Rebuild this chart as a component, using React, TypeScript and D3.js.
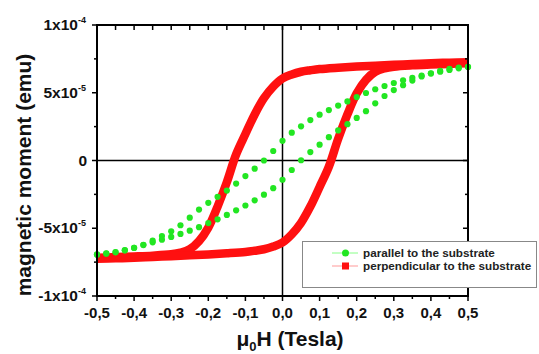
import React from 'react';
import * as d3 from 'd3';

// parallel to the substrate (green dots), moment in units of 1e-5 emu
const greenFieldDown = [0.5, 0.475, 0.45, 0.425, 0.4, 0.375, 0.35, 0.325, 0.3, 0.275, 0.25, 0.225, 0.2, 0.175, 0.15, 0.125, 0.1, 0.075, 0.05, 0.025, 0, -0.025, -0.05, -0.075, -0.1, -0.125, -0.15, -0.175, -0.2, -0.225, -0.25, -0.275, -0.3, -0.325, -0.35, -0.375, -0.4, -0.425, -0.45, -0.475, -0.5];
const greenMomentDown = [6.90, 6.80, 6.68, 6.55, 6.42, 6.27, 6.10, 5.92, 5.72, 5.50, 5.26, 4.98, 4.68, 4.36, 4.05, 3.72, 3.38, 2.98, 2.52, 2.05, 1.45, 0.70, 0.00, -0.60, -1.15, -1.70, -2.22, -2.68, -3.12, -3.62, -4.22, -4.78, -5.22, -5.58, -5.92, -6.22, -6.45, -6.63, -6.78, -6.88, -6.95];
const greenFieldUp = [-0.5, -0.475, -0.45, -0.425, -0.4, -0.375, -0.35, -0.325, -0.3, -0.275, -0.25, -0.225, -0.2, -0.175, -0.15, -0.125, -0.1, -0.075, -0.05, -0.025, 0, 0.025, 0.05, 0.075, 0.1, 0.125, 0.15, 0.175, 0.2, 0.225, 0.25, 0.275, 0.3, 0.325, 0.35, 0.375, 0.4, 0.425, 0.45, 0.475, 0.5];
const greenMomentUp = [-6.92, -6.85, -6.76, -6.62, -6.44, -6.24, -6.04, -5.84, -5.64, -5.42, -5.18, -4.92, -4.62, -4.34, -4.02, -3.68, -3.32, -2.94, -2.52, -2.04, -1.42, -0.70, 0.02, 0.62, 1.17, 1.72, 2.22, 2.68, 3.14, 3.64, 4.22, 4.76, 5.20, 5.56, 5.90, 6.20, 6.43, 6.61, 6.76, 6.86, 6.92];

// perpendicular to the substrate (red squares)
const redFieldDown = [0.5, 0.45, 0.4, 0.35, 0.3, 0.25, 0.2, 0.15, 0.1, 0.075, 0.05, 0.025, 0, -0.025, -0.05, -0.075, -0.1, -0.125, -0.15, -0.175, -0.2, -0.225, -0.25, -0.275, -0.3, -0.35, -0.4, -0.45, -0.5];
const redMomentDown = [7.25, 7.22, 7.18, 7.12, 7.06, 7.00, 6.93, 6.85, 6.75, 6.66, 6.55, 6.35, 6.05, 5.45, 4.60, 3.40, 1.95, 0.45, -1.60, -3.40, -4.95, -5.95, -6.55, -6.80, -6.92, -7.02, -7.08, -7.13, -7.18];
const redFieldUp = [-0.5, -0.45, -0.4, -0.35, -0.3, -0.25, -0.2, -0.15, -0.1, -0.075, -0.05, -0.025, 0, 0.025, 0.05, 0.075, 0.1, 0.125, 0.15, 0.175, 0.2, 0.225, 0.25, 0.275, 0.3, 0.35, 0.4, 0.45, 0.5];
const redMomentUp = [-7.25, -7.22, -7.18, -7.12, -7.06, -7.00, -6.93, -6.85, -6.75, -6.66, -6.55, -6.35, -6.05, -5.45, -4.60, -3.40, -1.95, -0.45, 1.60, 3.40, 4.95, 5.95, 6.55, 6.80, 6.92, 7.02, 7.08, 7.13, 7.18];

const xTickValues = [-0.5, -0.4, -0.3, -0.2, -0.1, 0, 0.1, 0.2, 0.3, 0.4, 0.5];
const xTickLabels = ['-0,5', '-0,4', '-0,3', '-0,2', '-0,1', '0,0', '0,1', '0,2', '0,3', '0,4', '0,5'];
const yTickValues = [-1e-4, -5e-5, 0, 5e-5, 1e-4];
const yTickBases = ['-1x10', '-5x10', '0', '5x10', '1x10'];
const yTickExps = ['-4', '-5', '', '-5', '-4'];

const GREEN = '#22e622';
const RED = '#ff1010';
const FONT = '"Liberation Sans", Arial, sans-serif';

const W = 539;
const H = 354;
const plot = { left: 97, right: 468, top: 25, bottom: 296 };

const App: React.FC = () => {
  const x = d3.scaleLinear().domain([-0.5, 0.5]).range([plot.left, plot.right]);
  const y = d3.scaleLinear().domain([-1e-4, 1e-4]).range([plot.bottom, plot.top]);

  const toPts = (hs: number[], ms: number[]) => hs.map((h, i) => [h, ms[i] * 1e-5] as [number, number]);
  const greenPts = [...toPts(greenFieldDown, greenMomentDown), ...toPts(greenFieldUp, greenMomentUp)];

  const line = d3.line<[number, number]>()
    .x(d => x(d[0]))
    .y(d => y(d[1]))
    .curve(d3.curveCatmullRom);

  const minorX = x.ticks(20);
  const minorY = d3.range(-1e-4, 1e-4 + 1e-9, 2.5e-5);

  return (
    <div style={{ position: 'fixed', left: 0, top: 0 }}>
      <svg width={W} height={H} style={{ display: 'block', background: '#fff' }} fontFamily={FONT}>
        {/* zero lines */}
        <line x1={plot.left} x2={plot.right} y1={y(0)} y2={y(0)} stroke="#000" strokeWidth={1.5} />
        <line x1={x(0)} x2={x(0)} y1={plot.top} y2={plot.bottom} stroke="#000" strokeWidth={1.5} />

        {/* red loop */}
        <path d={line(toPts(redFieldDown, redMomentDown)) || ''} fill="none" stroke={RED} strokeWidth={8.5} strokeLinejoin="round" />
        <path d={line(toPts(redFieldUp, redMomentUp)) || ''} fill="none" stroke={RED} strokeWidth={8.5} strokeLinejoin="round" />

        {/* green dots */}
        {greenPts.map((d, i) => (
          <circle key={i} cx={x(d[0])} cy={y(d[1])} r={3.1} fill={GREEN} />
        ))}

        {/* frame */}
        <rect x={plot.left} y={plot.top} width={plot.right - plot.left} height={plot.bottom - plot.top} fill="none" stroke="#000" strokeWidth={2} />

        {/* x ticks: bottom outward, top inward */}
        {minorX.map((t, i) => {
          const major = xTickValues.some(v => Math.abs(v - t) < 1e-9);
          const len = major ? 5 : 3;
          return (
            <g key={'xt' + i}>
              <line x1={x(t)} x2={x(t)} y1={plot.bottom} y2={plot.bottom + len} stroke="#000" strokeWidth={1.5} />
              <line x1={x(t)} x2={x(t)} y1={plot.top} y2={plot.top + 5} stroke="#000" strokeWidth={1.5} />
            </g>
          );
        })}
        {xTickValues.map((t, i) => (
          <text key={'xl' + i} x={x(t)} y={plot.bottom + 22} textAnchor="middle" fontSize={15} fontWeight="bold" fill="#111">
            {xTickLabels[i]}
          </text>
        ))}

        {/* y ticks: left outward, right inward */}
        {minorY.map((t, i) => {
          const major = yTickValues.some(v => Math.abs(v - t) < 1e-12);
          const len = major ? 5 : 3;
          return (
            <g key={'yt' + i}>
              <line x1={plot.left - len} x2={plot.left} y1={y(t)} y2={y(t)} stroke="#000" strokeWidth={1.5} />
              <line x1={plot.right - len} x2={plot.right} y1={y(t)} y2={y(t)} stroke="#000" strokeWidth={1.5} />
            </g>
          );
        })}
        {yTickValues.map((t, i) => (
          <text key={'yl' + i} x={yTickExps[i] ? plot.left - 11 : plot.left - 10} y={y(t) + 5} textAnchor="end" fontSize={15.5} fontWeight="bold" fill="#111">
            {yTickBases[i]}
            {yTickExps[i] && (
              <tspan fontSize={9} dy={-7}>{yTickExps[i]}</tspan>
            )}
          </text>
        ))}

        {/* axis titles */}
        <text transform={`translate(31,175) rotate(-90)`} textAnchor="middle" fontSize={21} fontWeight="bold" fill="#111">
          magnetic moment (emu)
        </text>
        <text x={290} y={346} textAnchor="middle" fontSize={21} fontWeight="bold" fill="#111">
          μ<tspan fontSize={13} dy={5}>0</tspan><tspan dy={-5}>H (Tesla)</tspan>
        </text>

        {/* legend */}
        <g>
          <rect x={302.5} y={241.5} width={234} height={46} fill="#fff" stroke="#888" strokeWidth={1} />
          <line x1={332} x2={358} y1={253} y2={253} stroke="#8f8" strokeWidth={1} />
          <circle cx={345.5} cy={253} r={3.5} fill={GREEN} />
          <text x={363} y={257} fontSize={11.7} fontWeight="bold" fill="#222">parallel to the substrate</text>
          <line x1={332} x2={358} y1={266} y2={266} stroke="#f99" strokeWidth={1} />
          <rect x={342} y={262.5} width={7} height={7} fill={RED} />
          <text x={363} y={270} fontSize={11.7} fontWeight="bold" fill="#222">perpendicular to the substrate</text>
        </g>
      </svg>
    </div>
  );
};

export default App;
